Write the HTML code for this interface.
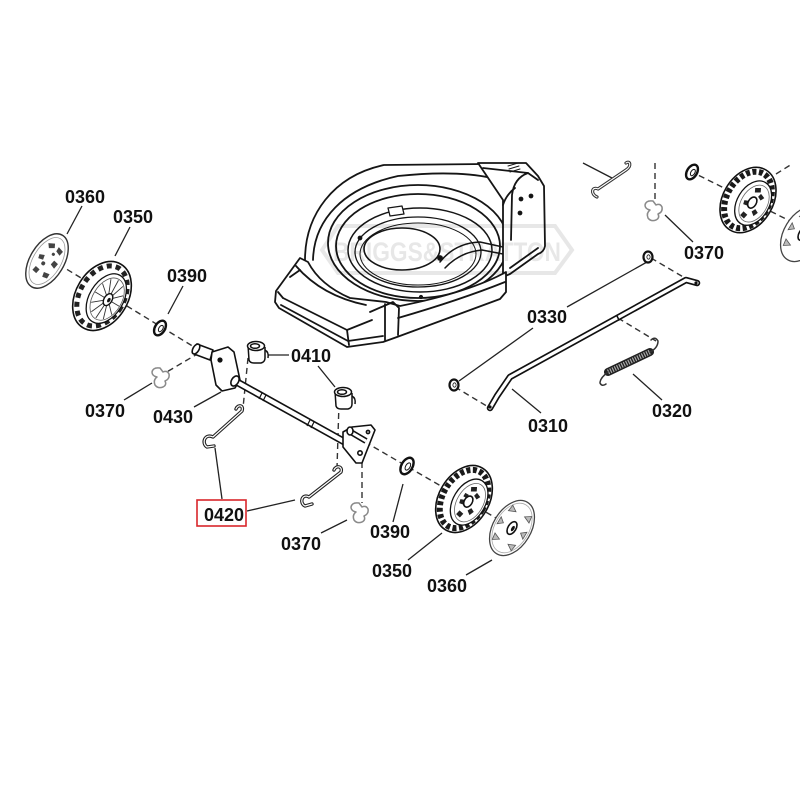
<!DOCTYPE html>
<html><head><meta charset="utf-8"><style>html,body{margin:0;padding:0;background:#fff}svg{display:block}</style></head>
<body>
<svg width="800" height="800" viewBox="0 0 800 800" xmlns="http://www.w3.org/2000/svg">
<rect width="800" height="800" fill="#fff"/>

<!-- ===== DECK ===== -->
<g stroke="#151515" stroke-width="1.8" fill="none" stroke-linejoin="round" stroke-linecap="round">
  <path d="M305 260 C305 215 333 176 384 165 L486 164"/>
  <path d="M313 260 C314 220 343 188 398 176 Q455 170 492 178 L502 190"/>
  <ellipse cx="418" cy="243" rx="90" ry="58"/>
  <ellipse cx="418" cy="246" rx="82" ry="52"/>
  <ellipse cx="420" cy="250" rx="72" ry="42" stroke-width="1.5"/>
  <ellipse cx="418" cy="252" rx="63" ry="35" stroke-width="1.3"/>
  <ellipse cx="418" cy="254" rx="58" ry="31" stroke-width="1"/>
  <ellipse cx="402" cy="249" rx="38" ry="21" stroke-width="1.6"/>
  <path d="M388 208 L402 206 L404 214 L390 216 Z" fill="#fff" stroke-width="1.3"/>
  <path d="M440 262 Q455 243 480 242 L503 247" stroke-width="1.5"/>
  <path d="M445 268 Q460 252 482 250 L503 254" stroke-width="1.5"/>
  <circle cx="440" cy="258" r="2" fill="#111"/>
  <circle cx="360" cy="238" r="1.5" fill="#111"/>
  <circle cx="421" cy="297" r="1.2" fill="#111"/>
  <!-- rear housing -->
  <path d="M478 163 L526 163 L538 176 L544 186 L545 246 Q544 252 538 254 L510 274 L503 277 L503 200 Z" fill="#fff"/>
  <path d="M483 168 L528 173 L538 180"/>
  <path d="M528 173 Q514 178 512 195 L511 240"/>
  <path d="M503 205 Q506 195 515 188"/>
  <path d="M538 248 L510 268"/>
  <path d="M508 166 l10 -3 M509 169 l10 -3 M510 172 l10 -3" stroke-width="1"/>
  <circle cx="521" cy="199" r="1.5" fill="#111"/>
  <circle cx="531" cy="196" r="1.5" fill="#111"/>
  <circle cx="520" cy="213" r="1.5" fill="#111"/>
  <!-- skirt / bumper -->
  <path d="M300 258 L276 291 L275 302 L279 308 L347 347 L383 342 L397 337 L500 299 L506 292 L506 272 Q470 292 400 306 L386 302 L350 298 Q320 285 308 262 Z" fill="#fff"/>
  <path d="M283 298 L347 330 L372 320"/>
  <path d="M278 292 L283 298"/>
  <path d="M296 266 Q322 296 366 305"/>
  <path d="M290 277 L300 270"/>
  <path d="M281 305 L348 341 L383 336"/>
  <path d="M347 330 L349 345"/>
  <path d="M370 312 L393 302 L399 308 L398 335"/>
  <path d="M385 304 L385 340"/>
  <path d="M398 318 Q460 300 505 282"/>
</g>
<!-- watermark -->
<g opacity="0.09">
  <path d="M322 250 L338 226 L555 226 L572 250 L555 273 L338 273 Z" fill="none" stroke="#000" stroke-width="4"/>
  <text x="333" y="261" font-family="Liberation Sans, sans-serif" font-weight="bold" font-size="27" fill="#000" textLength="228" lengthAdjust="spacingAndGlyphs">BRIGGS&amp;STRATTON</text>
</g>

<!-- ===== DASHED LINES ===== -->
<g stroke="#333" stroke-width="1.4" stroke-dasharray="6 4" fill="none">
  <line x1="50" y1="259" x2="199" y2="350"/>
  <line x1="199" y1="353" x2="165" y2="373"/>
  <line x1="248" y1="358" x2="243" y2="408"/>
  <line x1="339" y1="403" x2="337" y2="468"/>
  <line x1="362" y1="462" x2="362" y2="503"/>
  <line x1="365" y1="442" x2="515" y2="529"/>
  <line x1="690" y1="171" x2="800" y2="226"/>
  <line x1="776" y1="174" x2="792" y2="164"/>
  <line x1="655" y1="163" x2="655" y2="202"/>
  <line x1="651" y1="258" x2="685" y2="278"/>
  <line x1="455" y1="387" x2="490" y2="408"/>
  <line x1="618" y1="318" x2="656" y2="341"/>
</g>

<!-- ===== LEADERS ===== -->
<g stroke="#222" stroke-width="1.3" fill="none">
  <line x1="82" y1="206" x2="67" y2="234"/>
  <line x1="130" y1="227" x2="115" y2="256"/>
  <line x1="183" y1="286" x2="168" y2="314"/>
  <line x1="124" y1="400" x2="152" y2="383"/>
  <line x1="194" y1="407" x2="221" y2="392"/>
  <line x1="268" y1="355" x2="289" y2="355"/>
  <line x1="318" y1="366" x2="335" y2="387"/>
  <line x1="222" y1="499" x2="215" y2="448"/>
  <line x1="247" y1="511" x2="295" y2="500"/>
  <line x1="321" y1="533" x2="347" y2="520"/>
  <line x1="393" y1="522" x2="403" y2="484"/>
  <line x1="408" y1="560" x2="442" y2="533"/>
  <line x1="466" y1="575" x2="492" y2="560"/>
  <line x1="567" y1="307" x2="647" y2="262"/>
  <line x1="533" y1="328" x2="459" y2="381"/>
  <line x1="541" y1="413" x2="512" y2="389"/>
  <line x1="662" y1="400" x2="633" y2="374"/>
  <line x1="693" y1="242" x2="665" y2="215"/>
  <line x1="583" y1="163" x2="612" y2="178"/>
</g>

<!-- ===== LEFT HUBCAP 0360 ===== -->
<g transform="translate(47 261) rotate(31)">
  <ellipse rx="17" ry="30" fill="#fff" stroke="#333" stroke-width="1.4"/>
  <ellipse rx="14" ry="26" fill="none" stroke="#999" stroke-width="0.8"/>
  <g fill="#444">
    <path d="M-8 -16 l6 -3 l2 4 l-5 3z"/><path d="M3 -18 l6 2 l-1 5 l-5 -2z"/>
    <path d="M-10 -2 l5 -2 l1 5 l-5 1z"/><path d="M6 -4 l5 1 l-1 6 l-5 -2z"/>
    <path d="M-7 10 l5 1 l-1 5 l-5 -1z"/><path d="M3 11 l6 -1 l0 5 l-5 1z"/>
    <circle cx="-2" cy="4" r="2"/><circle cx="2" cy="-9" r="1.6"/>
  </g>
</g>

<!-- ===== LEFT WHEEL 0350 ===== -->
<g transform="translate(102 296) rotate(31)">
  <ellipse rx="26" ry="37" fill="#fff" stroke="#111" stroke-width="1.6"/>
  <ellipse rx="22" ry="32.5" fill="none" stroke="#222" stroke-width="5" stroke-dasharray="5 4"/>
  <ellipse cx="5" rx="17" ry="27" fill="#fff" stroke="#111" stroke-width="1.3"/>
  <ellipse cx="6" rx="14.5" ry="23" fill="none" stroke="#555" stroke-width="0.8"/>
  <g stroke="#333" stroke-width="0.9">
    <line x1="7" y1="0" x2="20" y2="0"/><line x1="7" y1="0" x2="18" y2="11"/>
    <line x1="7" y1="0" x2="13" y2="19"/><line x1="7" y1="0" x2="6" y2="22"/>
    <line x1="7" y1="0" x2="-1" y2="19"/><line x1="7" y1="0" x2="-6" y2="11"/>
    <line x1="7" y1="0" x2="-8" y2="0"/><line x1="7" y1="0" x2="-6" y2="-11"/>
    <line x1="7" y1="0" x2="-1" y2="-19"/><line x1="7" y1="0" x2="6" y2="-22"/>
    <line x1="7" y1="0" x2="13" y2="-19"/><line x1="7" y1="0" x2="18" y2="-11"/>
  </g>
  <ellipse cx="7" rx="4" ry="6.5" fill="#fff" stroke="#111" stroke-width="1.4"/>
  <ellipse cx="8" rx="1.5" ry="2.5" fill="#111"/>
</g>

<!-- washers -->
<g transform="translate(160 328) rotate(31)"><ellipse rx="5" ry="8" fill="#fff" stroke="#111" stroke-width="2.4"/><ellipse cx="1" rx="2" ry="3.5" fill="#fff" stroke="#111" stroke-width="1"/></g>
<g transform="translate(407 466) rotate(31)"><ellipse rx="5.5" ry="9" fill="#fff" stroke="#111" stroke-width="2.4"/><ellipse cx="1" rx="2.2" ry="4" fill="#fff" stroke="#111" stroke-width="1"/></g>
<g transform="translate(692 172) rotate(31)"><ellipse rx="5" ry="8" fill="#fff" stroke="#111" stroke-width="2.4"/><ellipse cx="1" rx="2" ry="3.5" fill="#fff" stroke="#111" stroke-width="1"/></g>
<g transform="translate(648 257)"><ellipse rx="4.5" ry="5.5" fill="#fff" stroke="#111" stroke-width="2.2"/><ellipse cx="0.5" rx="1.6" ry="2.2" fill="#fff" stroke="#111" stroke-width="0.8"/></g>
<g transform="translate(454 385)"><ellipse rx="4.5" ry="5.5" fill="#fff" stroke="#111" stroke-width="2.2"/><ellipse cx="0.5" rx="1.6" ry="2.2" fill="#fff" stroke="#111" stroke-width="0.8"/></g>

<!-- clips 0370 -->
<g fill="none" stroke="#8a8a8a" stroke-width="1.5" stroke-linejoin="round">
  <path d="M160 368 q-7 -1 -8 4 q0 4 5 5 q-4 3 -2 8 q3 4 8 2 q4 -2 2 -6 q5 -2 4 -7 q-2 -4 -6 -2 z"/>
  <path d="M359 503 q-7 -1 -8 4 q0 4 5 5 q-4 3 -2 8 q3 4 8 2 q4 -2 2 -6 q5 -2 4 -7 q-2 -4 -6 -2 z"/>
  <path d="M653 201 q-7 -1 -8 4 q0 4 5 5 q-4 3 -2 8 q3 4 8 2 q4 -2 2 -6 q5 -2 4 -7 q-2 -4 -6 -2 z"/>
</g>

<!-- ===== AXLE ASSEMBLY 0430 ===== -->
<g stroke="#111" stroke-width="1.6" stroke-linejoin="round">
  <path d="M197 344 L213 350 L210 360 L194 354 Z" fill="#fff"/>
  <g transform="translate(196 349) rotate(31)"><ellipse rx="3" ry="5.5" fill="#fff"/></g>
  <path d="M212 352 L228 347 L234 352 L240 380 L235 388 L222 391 L216 385 L211 360 Z" fill="#fff"/>
  <circle cx="220" cy="360" r="1.8" fill="#111"/>
  <line x1="235" y1="381" x2="352" y2="446" stroke-width="7.5" stroke-linecap="butt"/>
  <line x1="235" y1="381" x2="352" y2="446" stroke="#fff" stroke-width="4.2" stroke-linecap="butt"/>
  <g transform="translate(235 381) rotate(31)"><ellipse rx="3.5" ry="5.5" fill="#fff"/></g>
  <line x1="262" y1="393" x2="259" y2="399" stroke-width="1.2"/>
  <line x1="266" y1="395" x2="263" y2="401" stroke-width="1.2"/>
  <line x1="310" y1="420" x2="307" y2="426" stroke-width="1.2"/>
  <line x1="314" y1="422" x2="311" y2="428" stroke-width="1.2"/>
  <!-- right plate -->
  <path d="M343 432 L352 427 L371 425 L375 430 L362 463 L356 463 L343 447 Z" fill="#fff"/>
  <path d="M349 431 L366 441" stroke-width="6"/>
  <path d="M349 431 L366 441" stroke="#fff" stroke-width="3"/>
  <ellipse cx="350" cy="431" rx="3" ry="4" fill="#fff"/>
  <circle cx="360" cy="453" r="2.2" fill="#fff"/>
  <circle cx="368" cy="432" r="1.6" fill="#fff"/>
</g>

<!-- bushings 0410 -->
<g stroke="#111" stroke-width="1.5" fill="#fff" stroke-linejoin="round">
  <g transform="translate(256 352)">
    <path d="M-8 -7 L-7 8 Q-6 11 -2 11 L5 11 Q9 10 9 6 L9 -5"/>
    <ellipse cx="0" cy="-6" rx="8.5" ry="4.5"/>
    <ellipse cx="-1" cy="-6" rx="4.5" ry="2.3"/>
    <path d="M9 -2 Q13 0 12 6" fill="none"/>
  </g>
  <g transform="translate(343 398)">
    <path d="M-8 -7 L-7 8 Q-6 11 -2 11 L5 11 Q9 10 9 6 L9 -5"/>
    <ellipse cx="0" cy="-6" rx="8.5" ry="4.5"/>
    <ellipse cx="-1" cy="-6" rx="4.5" ry="2.3"/>
    <path d="M9 -2 Q13 0 12 6" fill="none"/>
  </g>
</g>

<!-- springs 0420 -->
<g fill="none" stroke-linejoin="round" stroke-linecap="round">
  <path d="M236 409 C238 404 244 405 242 411 L213 437 C205 433 201 443 207 447 L214 446" stroke="#222" stroke-width="3.4"/>
  <path d="M236 409 C238 404 244 405 242 411 L213 437 C205 433 201 443 207 447 L214 446" stroke="#fff" stroke-width="1.2"/>
  <path d="M334 470 C336 465 343 466 341 472 L309 497 C302 493 299 503 305 506 L312 504" stroke="#222" stroke-width="3.4"/>
  <path d="M334 470 C336 465 343 466 341 472 L309 497 C302 493 299 503 305 506 L312 504" stroke="#fff" stroke-width="1.2"/>
  <path d="M597 197 C590 194 592 186 598 189 L626 170 C632 166 630 160 626 163" stroke="#333" stroke-width="3.2"/>
  <path d="M597 197 C590 194 592 186 598 189 L626 170 C632 166 630 160 626 163" stroke="#fff" stroke-width="1.1"/>
</g>

<!-- ===== BOTTOM WHEEL 0350 ===== -->
<g transform="translate(464 499) rotate(31)">
  <ellipse rx="25" ry="36" fill="#fff" stroke="#111" stroke-width="1.6"/>
  <ellipse rx="21" ry="31.5" fill="none" stroke="#1a1a1a" stroke-width="6" stroke-dasharray="4 2.5"/>
  <ellipse cx="6" rx="16" ry="25" fill="#fff" stroke="#111" stroke-width="1.3"/>
  <ellipse cx="7" rx="13" ry="21" fill="none" stroke="#666" stroke-width="0.8"/>
  <g fill="#222">
    <path d="M0 -14 l5 -3 l2 4 l-5 3z"/><path d="M8 -12 l5 2 l-2 4 l-4 -2z"/>
    <path d="M-3 2 l5 -2 l1 5 l-5 1z"/><path d="M11 4 l4 2 l-2 5 l-4 -3z"/>
    <path d="M2 12 l5 1 l-1 5 l-5 -1z"/><path d="M-2 -6 l4 0 l0 4 l-4 0z"/>
  </g>
  <ellipse cx="5" rx="4" ry="6" fill="#fff" stroke="#111" stroke-width="1.6"/>
</g>

<!-- ===== BOTTOM HUBCAP 0360 ===== -->
<g transform="translate(512 528) rotate(31)">
  <ellipse rx="19" ry="30" fill="#fff" stroke="#444" stroke-width="1.3"/>
  <ellipse rx="17" ry="27" fill="none" stroke="#aaa" stroke-width="0.8"/>
  <g fill="#bbb" stroke="#555" stroke-width="0.8">
    <path d="M10 0 l5 -4 l0 8z"/><path d="M-10 0 l-5 -4 l0 8z"/>
    <path d="M5 -16 l6 -4 l1 7z"/><path d="M-5 -16 l-6 -4 l-1 7z"/>
    <path d="M5 16 l6 4 l1 -7z"/><path d="M-5 16 l-6 4 l-1 -7z"/>
  </g>
  <ellipse rx="4" ry="7" fill="#fff" stroke="#111" stroke-width="1.6"/>
  <ellipse cx="1" rx="1.5" ry="3" fill="#111"/>
</g>

<!-- ===== TOP-RIGHT WHEEL ===== -->
<g transform="translate(748 200) rotate(31)">
  <ellipse rx="25" ry="35" fill="#fff" stroke="#111" stroke-width="1.6"/>
  <ellipse rx="21" ry="30.5" fill="none" stroke="#1a1a1a" stroke-width="6" stroke-dasharray="4 2.5"/>
  <ellipse cx="6" rx="16" ry="24" fill="#fff" stroke="#111" stroke-width="1.3"/>
  <ellipse cx="7" rx="13" ry="20" fill="none" stroke="#666" stroke-width="0.8"/>
  <g fill="#222">
    <path d="M0 -14 l5 -3 l2 4 l-5 3z"/><path d="M8 -12 l5 2 l-2 4 l-4 -2z"/>
    <path d="M-3 2 l5 -2 l1 5 l-5 1z"/><path d="M11 4 l4 2 l-2 5 l-4 -3z"/>
    <path d="M2 12 l5 1 l-1 5 l-5 -1z"/>
  </g>
  <ellipse cx="5" rx="4" ry="6" fill="#fff" stroke="#111" stroke-width="1.6"/>
</g>
<g transform="translate(803 234) rotate(31)">
  <ellipse rx="19" ry="30" fill="#fff" stroke="#444" stroke-width="1.3"/>
  <g fill="#bbb" stroke="#555" stroke-width="0.8">
    <path d="M-10 0 l-5 -4 l0 8z"/>
    <path d="M-5 -16 l-6 -4 l-1 7z"/>
    <path d="M-5 16 l-6 4 l-1 -7z"/>
    <path d="M5 -16 l6 -4 l1 7z"/>
  </g>
  <ellipse rx="4" ry="7" fill="#fff" stroke="#111" stroke-width="1.6"/>
</g>

<!-- ===== ROD 0310 ===== -->
<g fill="none" stroke-linejoin="round" stroke-linecap="round">
  <path d="M490 408 L497 396 L510 377 L686 280 L697 283" stroke="#111" stroke-width="6.5"/>
  <path d="M490 408 L497 396 L510 377 L686 280 L697 283" stroke="#fff" stroke-width="3.2"/>
  <circle cx="490" cy="407" r="1.6" fill="#111" stroke="none"/>
  <circle cx="696" cy="283" r="1.6" fill="#111" stroke="none"/>
  <line x1="617" y1="316" x2="619" y2="320" stroke="#111" stroke-width="1.5"/>
</g>

<!-- ===== SPRING 0320 ===== -->
<g fill="none" stroke-linecap="round">
  <line x1="608" y1="372" x2="650" y2="352" stroke="#222" stroke-width="8"/>
  <line x1="608" y1="372" x2="650" y2="352" stroke="#aaa" stroke-width="5" stroke-dasharray="1.2 1.3" stroke-linecap="butt"/>
  <path d="M608 372 Q600 378 600 383 Q602 387 606 384" stroke="#333" stroke-width="1.5"/>
  <path d="M650 352 Q658 348 658 341 Q655 336 651 340" stroke="#333" stroke-width="1.5"/>
</g>

<!-- ===== LABELS ===== -->
<g font-family="Liberation Sans, Arial, sans-serif" font-weight="bold" font-size="18" fill="#111">
  <text x="65" y="203">0360</text>
  <text x="113" y="223">0350</text>
  <text x="167" y="282">0390</text>
  <text x="291" y="362">0410</text>
  <text x="85" y="417">0370</text>
  <text x="153" y="423">0430</text>
  <text x="204" y="521">0420</text>
  <text x="281" y="550">0370</text>
  <text x="370" y="538">0390</text>
  <text x="372" y="577">0350</text>
  <text x="427" y="592">0360</text>
  <text x="527" y="323">0330</text>
  <text x="528" y="432">0310</text>
  <text x="652" y="417">0320</text>
  <text x="684" y="259">0370</text>
</g>
<rect x="197" y="500" width="49" height="26" fill="none" stroke="#d9262b" stroke-width="1.6"/>
</svg>
</body></html>
